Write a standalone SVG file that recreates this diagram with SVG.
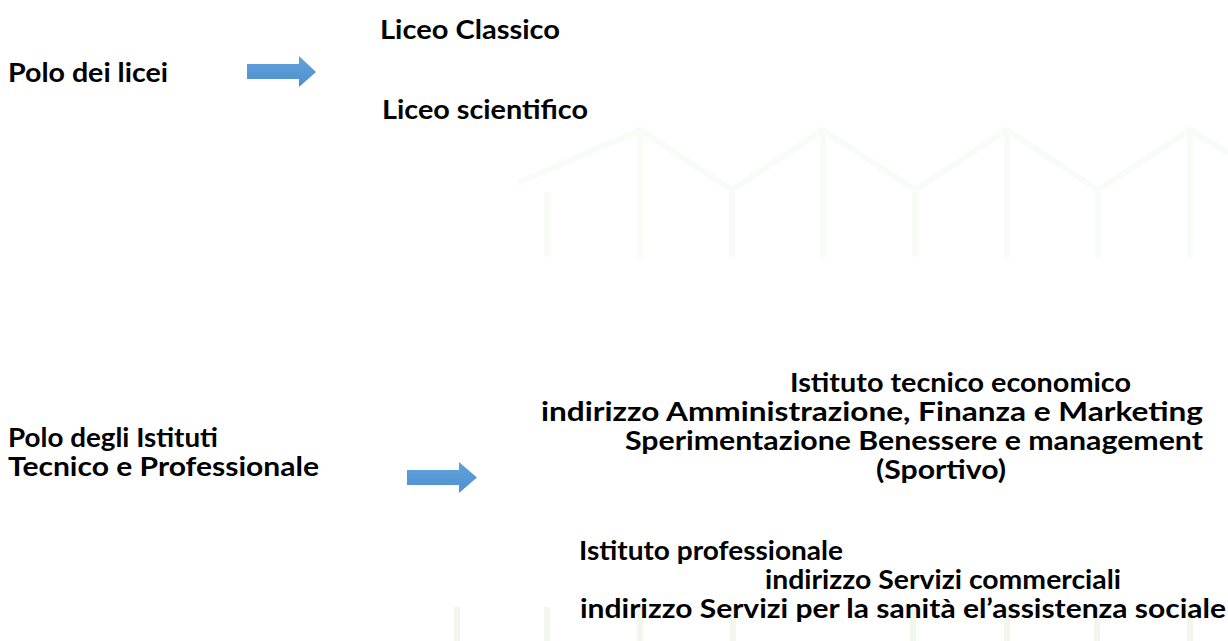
<svg xmlns="http://www.w3.org/2000/svg" width="1228" height="641" viewBox="0 0 1228 641">
  <defs>
    <style>
      .lbl { font-family: Lato, "Open Sans", "Liberation Sans", sans-serif; font-weight: 700; font-size: 26px; fill: #000; }
      .wm { stroke: #f9fbf6; stroke-width: 6; fill: none; stroke-linecap: butt; }
      .wm2 { stroke: #f1f7ea; stroke-width: 6; fill: none; }
      .arrow { fill: url(#blueGrad); }
    </style>
    <linearGradient id="blueGrad" x1="0" y1="0" x2="0" y2="1">
      <stop offset="0" stop-color="#62a2dc"/>
      <stop offset="1" stop-color="#4e8fcf"/>
    </linearGradient>
  </defs>

  <rect x="0" y="0" width="1228" height="641" fill="#ffffff"/>

  <!-- faint background ornament -->
  <g id="background">
    <polyline class="wm" points="518,183 640,130 732,190 823,130 915,190 1007,130 1098,190 1190,130 1240,160"/>
    <path class="wm" d="M547,192 V257 M640,133 V257 M732,190 V257 M823,133 V257 M915,190 V257 M1007,133 V257 M1098,190 V257 M1190,133 V257"/>
    <path class="wm2" d="M457,607 V641 M547,607 V641 M640,607 V641 M733,607 V641 M913,607 V641 M1007,607 V641 M1097,607 V641 M1190,607 V641"/>
  </g>

  <!-- connectors -->
  <g id="connectors">
    <polygon class="arrow" points="247,64 299,64 299,56 316,72 299,87 299,79 247,79"/>
    <polygon class="arrow" points="407,470 459,470 459,462 477,477.5 459,493 459,485 407,485"/>
  </g>

  <g id="polo-licei">
    <text class="lbl" x="8" y="82" textLength="160" lengthAdjust="spacingAndGlyphs">Polo dei licei</text>
  </g>

  <g id="liceo-classico">
    <text class="lbl" x="380" y="39" textLength="180" lengthAdjust="spacingAndGlyphs">Liceo Classico</text>
  </g>

  <g id="liceo-scientifico">
    <text class="lbl" x="382" y="119" textLength="206" lengthAdjust="spacingAndGlyphs">Liceo scientifico</text>
  </g>

  <g id="istituto-tecnico">
    <text class="lbl" x="790" y="392" textLength="341" lengthAdjust="spacingAndGlyphs">Istituto tecnico economico</text>
    <text class="lbl" x="541" y="421" textLength="662" lengthAdjust="spacingAndGlyphs">indirizzo Amministrazione, Finanza e Marketing</text>
    <text class="lbl" x="625" y="450" textLength="578" lengthAdjust="spacingAndGlyphs">Sperimentazione Benessere e management</text>
    <text class="lbl" x="876" y="479" textLength="130" lengthAdjust="spacingAndGlyphs">(Sportivo)</text>
  </g>

  <g id="polo-istituti">
    <text class="lbl" x="8" y="447" textLength="210" lengthAdjust="spacingAndGlyphs">Polo degli Istituti</text>
    <text class="lbl" x="8" y="476" textLength="311" lengthAdjust="spacingAndGlyphs">Tecnico e Professionale</text>
  </g>

  <g id="istituto-professionale">
    <text class="lbl" x="579" y="560" textLength="264" lengthAdjust="spacingAndGlyphs">Istituto professionale</text>
    <text class="lbl" x="765" y="589" textLength="356" lengthAdjust="spacingAndGlyphs">indirizzo Servizi commerciali</text>
    <text class="lbl" x="580" y="618" textLength="646" lengthAdjust="spacingAndGlyphs">indirizzo Servizi per la sanità el’assistenza sociale</text>
  </g>
</svg>
